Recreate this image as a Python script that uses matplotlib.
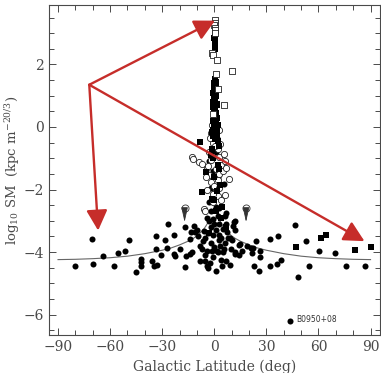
import matplotlib
matplotlib.use('Agg')
import matplotlib.pyplot as plt
from matplotlib.ticker import MultipleLocator

plt.rcParams['font.family'] = 'DejaVu Serif'
plt.rcParams['mathtext.fontset'] = 'dejavuserif'

# filled circles (galactic latitude in deg, log10 SM)
fc_b = [-80.2, -70.4, -69.6, -63.9, -57.5, -55.2, -51.5, -49.2, -45.2, -42.3, -42.0, -42.0,
        -36.0, -35.0, -32.9, -33.8, -33.5, -30.6, -28.5, -27.3, -26.5, -23.3, -23.1, -22.8,
        -20.0, -16.9, -16.7, -16.3, -14.2, -14.2, -13.3, -11.5, -10.0, -8.1, -8.5, -6.2,
        -5.2, -4.2, -4.2, -12.9, -11.0, -7.1, -5.2, -3.9,
        -3.0, -2.0, -1.0, 0.0, 1.0, 2.0, 3.0, 4.0, 5.0, -2.0, 0.0, 2.0, 3.5, 5.0, -1.0,
        6.7, 8.8, 4.0, 1.0, 8.0, 9.0, 11.1, 12.1, 12.1, 11.7, 14.0, 14.0, 12.0, 15.0, 18.9,
        -2.0, 1.0, 3.0, 6.0, -4.0, 7.0, -1.0, 0.0, -2.0, 5.4, 2.0, -1.0, -3.0, 1.0,
        -6.5, -3.5, -1.5, 2.5, 6.0, 7.5, 10.0, -9.5, -2.5, 4.5, 9.5, -0.5, 3.0, 6.5,
        -3.0, 1.5, 5.5, -5.5, 10.5, 16.0,
        21.0, 22.5, 21.7, 22.7, 24.0, 26.5, 26.5, 25.6, 31.9, 31.9, 36.7, 36.2, 38.3,
        46.4, 52.7, 60.6, 69.4, 54.8, 48.5, 75.6, 86.7, 43.9]
fc_sm = [-4.43, -3.59, -4.37, -4.11, -4.44, -4.02, -3.96, -3.61, -4.63, -4.43, -4.33, -4.22,
         -4.29, -4.44, -4.40, -3.50, -3.90, -4.08, -3.62, -3.88, -3.09, -3.45, -4.06, -4.14,
         -3.90, -3.21, -4.47, -4.11, -4.05, -3.58, -3.37, -3.15, -3.29, -3.79, -4.28, -3.34,
         -3.56, -3.95, -4.43, -4.00, -3.37, -3.90, -4.27, -4.52,
         -3.00, -3.20, -3.45, -3.10, -3.30, -2.85, -3.10, -3.55, -3.25, -3.70, -3.85, -4.00,
         -3.80, -4.00, -4.15, -4.27, -4.41, -4.25, -4.60, -3.56, -3.55, -3.05, -3.29, -3.01,
         -4.06, -3.77, -4.10, -4.00, -3.74, -3.79,
         -2.70, -2.55, -2.60, -2.85, -2.90, -3.10, -2.35, -2.10, -1.95, -1.82, -1.60, -1.40,
         -1.10, -0.80,
         -3.65, -3.40, -3.95, -3.45, -3.70, -3.35, -3.60, -3.50, -4.35, -4.45, -3.90, -2.95,
         -3.60, -2.75, -2.40, -3.95, -3.90, -4.10, -3.15, -3.95,
         -3.88, -3.88, -4.03, -4.45, -3.63, -3.98, -4.17, -4.62, -3.59, -4.44, -3.47, -4.37,
         -4.25, -3.13, -3.66, -3.98, -4.04, -4.45, -4.81, -4.45, -4.45, -6.19]

# open circles
oc_b = [-12.9, -12.0, -9.0, -7.1, 8.2, 6.3, -6.2, -5.2, -2.0, 0.0, 1.5, -1.0, 2.0, -3.0,
        3.0, -2.0, 4.0, -4.0, 1.0, -3.0, 3.0, 5.0, -2.0, 0.0, 3.0, -4.0, 2.0, -1.0, 4.0,
        6.0, 7.0, -5.0, -1.5, 2.5, 0.5, -2.5, 1.0, 3.5, -3.5, 5.5, -1.0, 2.0]
oc_sm = [-0.97, -1.02, -1.13, -1.18, -1.66, -2.19, -2.62, -2.70, -0.20, -0.30, -0.40, -0.50,
         -0.70, -0.80, -0.95, -1.05, -1.20, -1.30, -1.35, -1.55, -1.50, -1.40, -1.75, -1.90,
         -1.95, -2.00, -2.20, -2.40, -2.35, -1.10, -1.30, -1.60, 0.05, -0.10, -0.60, -0.35,
         -0.15, -0.55, -1.25, -0.85, -2.15, -1.70]

# upper limits (open circle with arrow)
ul_b = [-17.1, 18.3]
ul_sm = [-2.59, -2.59]

# filled squares
fs_b = [0.3, 0.5, 0.2, 0.6, 0.3, 0.5, 0.1, 0.7,
        0.2, 0.8, -0.3, 1.0, 0.4, -0.5, 1.2, 0.0, 0.7, -0.8, 1.5, 0.3, -0.2, 0.9, 0.1,
        1.3, -0.6, 0.5, 0.6, -0.1, 1.1, -0.4, 0.9, 0.2, 1.6, -0.7, 0.5, 1.0, -0.2, 0.8,
        0.0, 1.4, -0.9, 0.4, 1.8, -1.0, 0.7, 2.2, -1.4, 0.3, 1.9, -0.3,
        -8.1, -7.1, -1.3, -0.4, 3.0, -1.0, 2.0, 0.0, 1.0, 4.0, -3.0, 7.0, -2.0, 3.5, 1.5,
        -4.5, 2.5, -1.5, 4.5,
        46.9, 61.3, 64.6, 81.0, 90.4]
fs_sm = [2.90, 2.80, 2.72, 2.65, 2.57, 2.50, 2.85, 2.60,
         1.55, 1.45, 1.35, 1.25, 1.20, 1.10, 1.00, 0.95, 0.85, 0.80, 0.70, 0.60, 0.50,
         0.45, 0.35, 0.30, 0.20, 0.10, 1.50, 1.40, 1.30, 1.15, 1.05, 0.90, 0.75, 0.65,
         0.55, 0.40, 0.25, 0.15, 0.00, -0.05, -0.10, -0.20, -0.25, -0.30, -0.40, -0.45,
         -0.15, 0.62, 0.05, 1.02,
         -0.49, -2.09, -2.30, -2.35, -0.60, -1.00, -1.20, -1.60, -2.70, -2.90, -3.40, -3.20,
         -0.90, -1.85, -2.05, -1.45, -1.35, -0.70, -2.55,
         -3.83, -3.56, -3.45, -3.93, -3.85]

# open squares
os_b = [0.2, 0.3, 0.1, 0.4, 0.2, 0.4, -1.3, -1.0, 1.5, 1.0, 10.2, 5.4, 2.0, -0.5]
os_sm = [3.41, 3.32, 3.25, 3.17, 3.09, 3.00, 2.36, 2.30, 2.15, 1.68, 1.78, 0.71, 1.20, 0.40]

# model curve
cv_b = [-90, -80, -70, -60, -50, -40, -30, -25, -20, -15, -12, -10, -8, -6, -5, -4, -3, -2.5]
cv_sm = [-4.24, -4.23, -4.21, -4.18, -4.13, -4.05, -3.94, -3.87, -3.77, -3.65, -3.56, -3.48,
         -3.38, -3.26, -3.18, -3.09, -2.96, -2.88]

# red arrows: common tail and three heads
arrow_tail = (-72.0, 1.35)
arrow_heads = [(0.4, 3.40), (-66.9, -3.31), (86.5, -3.65)]

grey = '#4a4a4a'
fig = plt.figure(figsize=(3.81, 3.73), dpi=100)
ax = fig.add_axes([0.1286, 0.1019, 0.869, 0.8847])

ax.plot(cv_b, cv_sm, color='#666666', lw=0.8)
ax.plot([-b for b in cv_b], cv_sm, color='#666666', lw=0.8)

ax.scatter(fc_b, fc_sm, s=19, c='black', marker='o', lw=0, zorder=3)
ax.scatter(oc_b, oc_sm, s=20, facecolors='white', edgecolors='#222222', marker='o', lw=0.6, zorder=3)
ax.scatter(fs_b, fs_sm, s=16, c='black', marker='s', lw=0, zorder=4)
ax.scatter(os_b, os_sm, s=13, facecolors='white', edgecolors='#222222', marker='s', lw=0.6, zorder=4)
ax.scatter(ul_b, ul_sm, s=26, facecolors='white', edgecolors='#333333', marker='o', lw=0.6, zorder=3)
for b, sm in zip(ul_b, ul_sm):
    ax.annotate('', xy=(b, sm - 0.45), xytext=(b, sm - 0.1),
                arrowprops=dict(arrowstyle='-|>,head_length=0.9,head_width=0.2',
                                lw=0.6, color='#333333', shrinkA=0, shrinkB=0))

ax.text(fc_b[-1] + 3.5, fc_sm[-1] + 0.03, 'B0950+08', family='DejaVu Sans',
        fontsize=5.5, color='#333333', va='center')

for head in arrow_heads:
    ax.annotate('', xy=head, xytext=arrow_tail,
                arrowprops=dict(arrowstyle='-|>,head_length=0.62,head_width=0.32',
                                mutation_scale=20, lw=1.7, color='#c62d2a',
                                shrinkA=0, shrinkB=0), zorder=5)

ax.set_xlim(-95.2, 95.5)
ax.set_ylim(-6.65, 3.9)
ax.xaxis.set_major_locator(MultipleLocator(30))
ax.xaxis.set_minor_locator(MultipleLocator(10))
ax.yaxis.set_major_locator(MultipleLocator(2))
ax.yaxis.set_minor_locator(MultipleLocator(0.5))
ax.tick_params(which='both', direction='in', top=True, right=True, colors=grey,
               labelsize=10, width=0.7)
ax.tick_params(which='major', length=5)
ax.tick_params(which='minor', length=3.5)
for sp in ax.spines.values():
    sp.set_color(grey)
    sp.set_linewidth(0.8)

ax.set_xlabel('Galactic Latitude (deg)', fontsize=10, color=grey)
ax.set_ylabel(r'log$_{10}$ SM  (kpc m$^{-20/3}$)', fontsize=9.5, color=grey, labelpad=1)

plt.savefig('out.png', dpi=100)
